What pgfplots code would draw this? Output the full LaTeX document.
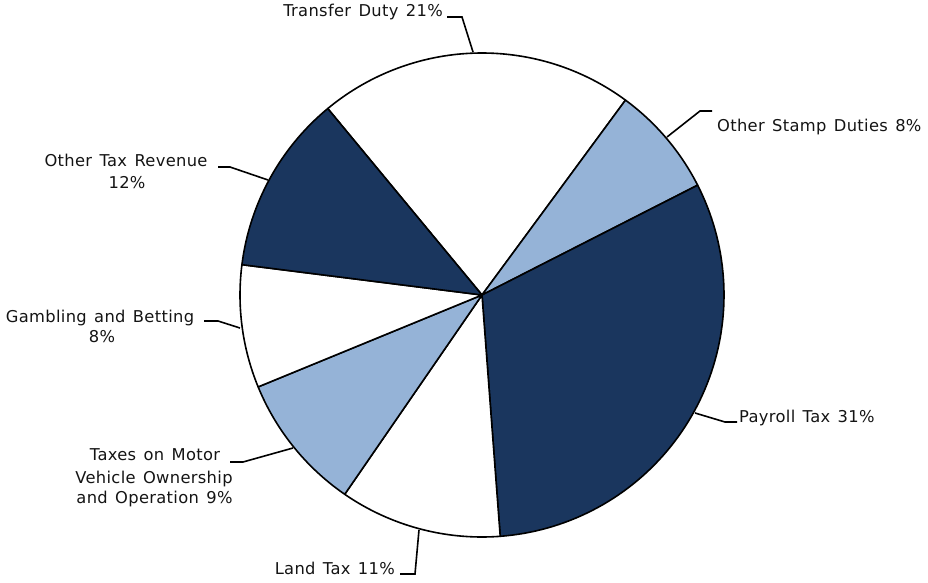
\documentclass[border=0pt]{standalone}
\usepackage{pgfplots}
\pgfplotsset{compat=1.18}
\usepackage{pgfplotstable}
\usepackage{fontspec}
\setmainfont[LetterSpace=2,WordSpace=1.35]{DejaVu Sans}
\definecolor{navy}{RGB}{26,54,94}
\definecolor{lightblue}{RGB}{149,179,215}
\definecolor{txt}{RGB}{20,20,20}

\pgfplotstableread{
label value
Transfer 21.1
Stamp 7.4
Payroll 31.3
Land 10.8
Motor 9.2
Gambling 8.2
Other 12.0
}\piedata

\begin{document}
\begin{tikzpicture}
\begin{axis}[
  hide axis, x=242pt, y=242pt,
  xmin=-1.99174, xmax=1.84298, ymin=-1.18595, ymax=1.21901,
  clip=false,
]
\xdef\startangle{129.6}
\foreach \i/\col in {0/white,1/lightblue,2/navy,3/white,4/lightblue,5/white,6/navy} {
  \pgfplotstablegetelem{\i}{value}\of\piedata
  \pgfmathsetmacro\endangle{\startangle-3.6*\pgfplotsretval}
  \edef\cmd{\noexpand\addplot[draw=black, line width=1.6pt, fill=\col, line join=round, domain=\endangle:\startangle, samples=80] ({cos(x)},{sin(x)}) -- (axis cs:0,0) -- cycle;}
  \cmd
  \xdef\startangle{\endangle}
}
\path (axis cs:-1.99174,-1.18595) rectangle (axis cs:1.84298,1.21901);
\end{axis}
\begin{scope}[x=1pt,y=-1pt,yshift=582pt,font=\fontsize{16.3}{19}\selectfont, text=txt]
\tikzset{lbl/.style={inner sep=0pt}}
\draw[line width=1.6pt] (447,17) -- (462,17) -- (473,52);
\node[lbl, anchor=base east] at (443,17) {Transfer Duty 21\%};
\draw[line width=1.6pt] (667,137) -- (700,111) -- (712,111);
\node[lbl, anchor=base west] at (717,132) {Other Stamp Duties 8\%};
\draw[line width=1.6pt] (695,413) -- (725,422) -- (737,422);
\node[lbl, anchor=base west] at (739,422) {Payroll Tax 31\%};
\draw[line width=1.6pt] (400,574) -- (415,574) -- (419,530);
\node[lbl, anchor=base east] at (395,574) {Land Tax 11\%};
\draw[line width=1.6pt] (230,462) -- (243,462) -- (293,448);
\node[lbl, anchor=base] at (155,460) {Taxes on Motor};
\node[lbl, anchor=base] at (154,483) {Vehicle Ownership};
\node[lbl, anchor=base] at (154.5,503) {and Operation 9\%};
\draw[line width=1.6pt] (204,321) -- (218,321) -- (240,328);
\node[lbl, anchor=base] at (100,322) {Gambling and Betting};
\node[lbl, anchor=base] at (102,342) {8\%};
\draw[line width=1.6pt] (218,167) -- (230,167) -- (268,180);
\node[lbl, anchor=base] at (126,167) {Other Tax Revenue};
\node[lbl, anchor=base] at (127,189) {12\%};
\end{scope}
\end{tikzpicture}
\end{document}
